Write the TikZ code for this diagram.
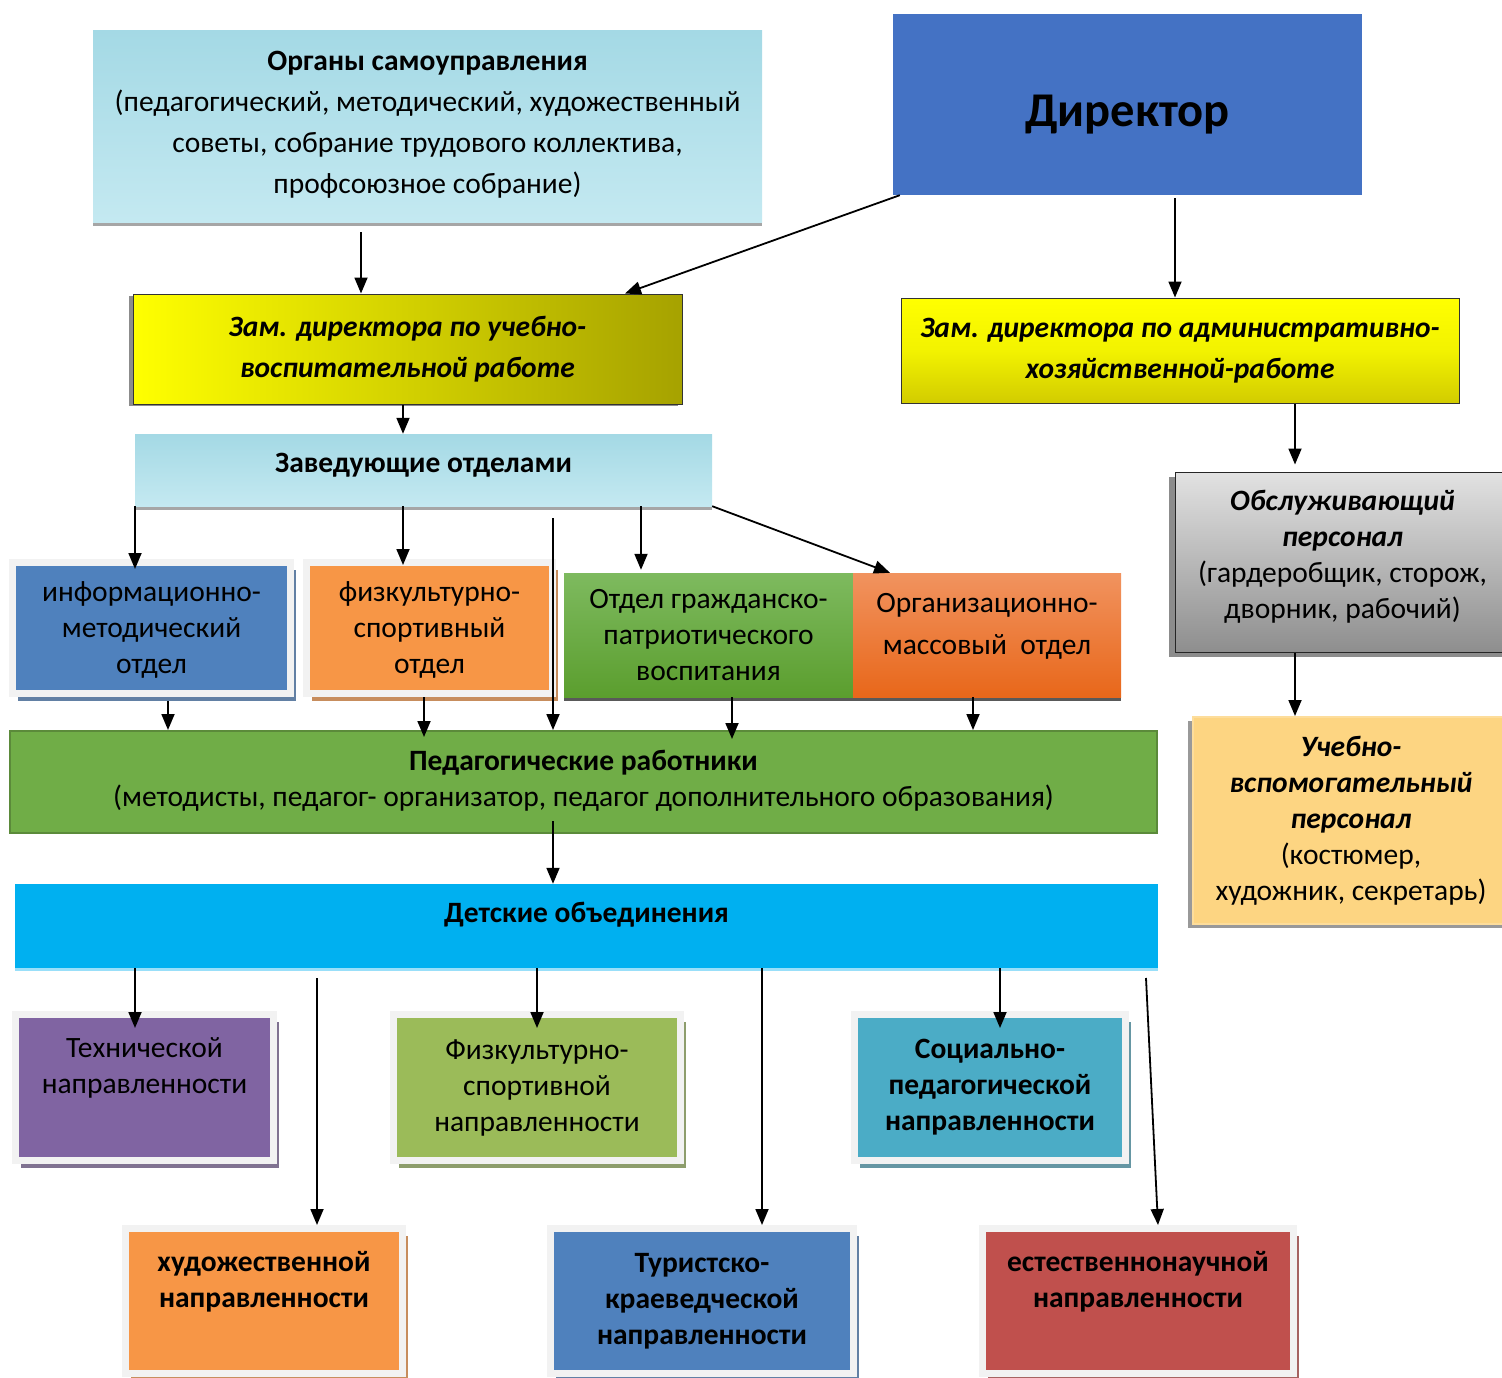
\documentclass[tikz,border=0pt]{standalone}
\usepackage{fontspec}
\setmainfont{Carlito}
\usetikzlibrary{arrows.meta, positioning, shadows}
\usepackage{xcolor}
\definecolor{aquaA}{HTML}{A4D9E5}
\definecolor{aquaB}{HTML}{C4E9F1}
\definecolor{dirblue}{HTML}{4472C4}
\definecolor{yelA}{HTML}{FFFF00}
\definecolor{yelB}{HTML}{A6A200}
\definecolor{yelC}{HTML}{D2CC00}
\definecolor{infoblue}{HTML}{4F81BD}
\definecolor{sportor}{HTML}{F79646}
\definecolor{grnA}{HTML}{7EBA5F}
\definecolor{grnB}{HTML}{5B9E2E}
\definecolor{oraA}{HTML}{F1935F}
\definecolor{oraB}{HTML}{E8671A}
\definecolor{greyA}{HTML}{E2E2E2}
\definecolor{greyB}{HTML}{8E8E8E}
\definecolor{sand}{HTML}{FDD582}
\definecolor{pedgreen}{HTML}{70AD47}
\definecolor{pededge}{HTML}{5B8A3A}
\definecolor{kidsblue}{HTML}{00B0F0}
\definecolor{violet}{HTML}{8064A2}
\definecolor{lime}{HTML}{9BBB59}
\definecolor{teal}{HTML}{4BACC6}
\definecolor{brick}{HTML}{C0504D}
\def\txtsize{\fontsize{29.5}{36}\selectfont}

\begin{document}
\begin{tikzpicture}[x=1pt,y=-1pt,>={Triangle[length=16pt,width=13pt]}]
    \tikzstyle{cell}=[rectangle, align=center, inner sep=0pt, font=\txtsize]
    \tikzstyle{water}=[cell, top color=aquaA, bottom color=aquaB, drop shadow={shadow xshift=0pt, shadow yshift=-4pt, fill=black!35, opacity=1}]
    \tikzstyle{tile}=[cell, draw=black!5, line width=7pt]
    \tikzstyle{arr}=[->, line width=1.8pt]

    \useasboundingbox (0,0) rectangle (1502,1378);

    \node[water, minimum width=669pt, minimum height=191pt, font=\fontsize{29.5}{41}\selectfont, text depth=8pt] (org) at (427.5,126.5)
        {{\bfseries Органы самоуправления}\\(педагогический, методический, художественный\\советы, собрание трудового коллектива,\\профсоюзное собрание)};
    \node[cell, fill=dirblue, minimum width=469pt, minimum height=181pt, font=\fontsize{48.5}{52}\selectfont\bfseries,
          text height=54pt, text depth=10pt] (dir) at (1127.5,104.5) {Директор};

    \node[cell, left color=yelA, right color=yelB, draw=black!80, line width=1pt, minimum width=549pt, minimum height=110pt,
          font=\fontsize{29.5}{41}\selectfont\bfseries\itshape, drop shadow={shadow xshift=-4pt, shadow yshift=-2pt, fill=black!45, opacity=1}] (zuvr) at (407.5,349)
        {Зам. директора по учебно-\\воспитательной работе};
    \node[cell, top color=yelA, bottom color=yelC, middle color=yelA!95!black, draw=black!80, line width=1pt, minimum width=558pt, minimum height=105pt,
          font=\fontsize{29.5}{41}\selectfont\bfseries\itshape] (zahr) at (1180,350.5)
        {Зам. директора по административно-\\хозяйственной-работе};

    \node[water, minimum width=577pt, minimum height=72pt, font=\txtsize\bfseries, text depth=14pt] (zav) at (423.5,470) {Заведующие отделами};

    \node[tile, fill=infoblue, minimum width=278pt, minimum height=131pt, text depth=-3pt,
          drop shadow={shadow xshift=5pt, shadow yshift=-7pt, fill=infoblue!60!gray, opacity=1}] (info) at (151.5,628)
        {информационно-\\методический\\отдел};
    \node[tile, fill=sportor, minimum width=246pt, minimum height=131pt, text depth=-3pt,
          drop shadow={shadow xshift=5pt, shadow yshift=-7pt, fill=sportor!60!gray, opacity=1}] (sport) at (429.5,628)
        {физкультурно-\\спортивный\\отдел};
    \node[cell, top color=grnA, bottom color=grnB, minimum width=289pt, minimum height=124pt, text depth=-1pt,
          drop shadow={shadow xshift=0pt, shadow yshift=-4pt, fill=black!65, opacity=1}] (civic) at (708.5,635)
        {Отдел гражданско-\\патриотического\\воспитания};
    \node[cell, top color=oraA, bottom color=oraB, minimum width=268pt, minimum height=124pt, text depth=22pt,
          drop shadow={shadow xshift=0pt, shadow yshift=-4pt, fill=black!65, opacity=1}] (mass) at (987,635)
        {Организационно-\\[6pt]массовый\ \ отдел};

    \node[cell, top color=greyA, bottom color=greyB, draw=black!85, line width=1pt, minimum width=335pt, minimum height=180pt, text depth=16pt,
          drop shadow={shadow xshift=-6pt, shadow yshift=-5pt, fill=black!45, opacity=1}] (serv) at (1342.5,562)
        {{\bfseries\itshape Обслуживающий}\\{\bfseries\itshape персонал}\\(гардеробщик, сторож,\\дворник, рабочий)};
    \node[cell, fill=sand, draw=sand!80!white, line width=2pt, minimum width=316pt, minimum height=207pt,
          drop shadow={shadow xshift=-5pt, shadow yshift=-4pt, fill=black!40, opacity=1}] (aux) at (1351,820.5)
        {{\bfseries\itshape Учебно-}\\{\bfseries\itshape вспомогательный}\\{\bfseries\itshape персонал}\\(костюмер,\\художник, секретарь)};

    \node[cell, fill=pedgreen, draw=pededge, line width=2pt, minimum width=1147pt, minimum height=102pt, text depth=8pt] (ped) at (583.5,782)
        {{\bfseries Педагогические работники}\\(методисты, педагог- организатор, педагог дополнительного образования)};
    \node[cell, fill=kidsblue, minimum width=1143pt, minimum height=84pt, text depth=27pt, font=\txtsize\bfseries,
          drop shadow={shadow xshift=0pt, shadow yshift=-3pt, fill=kidsblue!40, opacity=1}] (kids) at (586.5,926) {Детские объединения};

    \node[tile, fill=violet, minimum width=258pt, minimum height=146pt, text depth=44pt,
          drop shadow={shadow xshift=5pt, shadow yshift=-7pt, fill=violet!50!gray, opacity=1}] (tech) at (144.5,1087.5)
        {Технической\\направленности};
    \node[tile, fill=lime, minimum width=287pt, minimum height=146pt,
          drop shadow={shadow xshift=5pt, shadow yshift=-7pt, fill=lime!50!gray, opacity=1}] (phys) at (537,1087.5)
        {Физкультурно-\\спортивной\\направленности};
    \node[tile, fill=teal, minimum width=271pt, minimum height=146pt, font=\txtsize\bfseries,
          drop shadow={shadow xshift=5pt, shadow yshift=-7pt, fill=teal!50!gray, opacity=1}] (soc) at (990,1087.5)
        {Социально-\\педагогической\\направленности};

    \node[tile, fill=sportor, minimum width=277pt, minimum height=145pt, font=\txtsize\bfseries, text depth=44pt,
          drop shadow={shadow xshift=5pt, shadow yshift=-7pt, fill=sportor!60!gray, opacity=1}] (art) at (264,1301)
        {художественной\\направленности};
    \node[tile, fill=infoblue, minimum width=303pt, minimum height=145pt, font=\txtsize\bfseries,
          drop shadow={shadow xshift=5pt, shadow yshift=-7pt, fill=infoblue!60!gray, opacity=1}] (tour) at (702,1301)
        {Туристско-\\краеведческой\\направленности};
    \node[tile, fill=brick, minimum width=311pt, minimum height=145pt, font=\txtsize\bfseries, text depth=44pt,
          drop shadow={shadow xshift=5pt, shadow yshift=-7pt, fill=brick!60!gray, opacity=1}] (nat) at (1138,1301)
        {естественнонаучной\\направленности};

    \coordinate (gapA) at (553,518);
    \coordinate (gapB) at (317,978);
    \coordinate (gapC) at (1146,978);

    \draw[arr, shorten <=10pt] (org.south -| 361,0) -- (zuvr.north -| 361,0);
    \draw[arr] ([xshift=7pt]dir.south west) -- (zuvr.north -| 625,0);
    \draw[arr, shorten <=3pt] (dir.south -| 1175,0) -- (zahr.north -| 1175,0);
    \draw[arr] (zuvr.south -| 403,0) -- (zav.north -| 403,0);
    \draw[arr, shorten >=7pt] (zahr.south -| 1295,0) -- (serv.north -| 1295,0);
    \draw[arr] (serv.south -| 1295,0) -- (aux.north -| 1295,0);

    \draw[arr, shorten >=-10pt] (zav.south -| 135,0) -- (info.north -| 135,0);
    \draw[arr, shorten >=-6pt] (zav.south -| 403,0) -- (sport.north -| 403,0);
    \draw[arr] (gapA) -- (ped.north -| gapA);
    \draw[arr, shorten >=3pt] (zav.south -| 641,0) -- (civic.north -| 641,0);
    \draw[arr] (zav.south east) -- (mass.north -| 890,0);

    \draw[arr, shorten <=4pt] (info.south -| 168,0) -- (ped.north -| 168,0);
    \draw[arr, shorten >=-7pt] (sport.south -| 424,0) -- (ped.north -| 424,0);
    \draw[arr, shorten >=-9pt] (civic.south -| 732,0) -- (ped.north -| 732,0);
    \draw[arr] (mass.south -| 973,0) -- (ped.north -| 973,0);

    \draw[arr, shorten <=-13pt] (ped.south -| 553,0) -- (kids.north -| 553,0);

    \draw[arr, shorten >=-17pt] (kids.south -| 135,0) -- (tech.north -| 135,0);
    \draw[arr] (gapB) -- (art.north -| gapB);
    \draw[arr, shorten >=-17pt] (kids.south -| 537,0) -- (phys.north -| 537,0);
    \draw[arr] (kids.south -| 762,0) -- (tour.north -| 762,0);
    \draw[arr, shorten >=-17pt] (kids.south -| 1000,0) -- (soc.north -| 1000,0);
    \draw[arr] (gapC) -- (nat.north -| 1158,0);
\end{tikzpicture}
\end{document}
